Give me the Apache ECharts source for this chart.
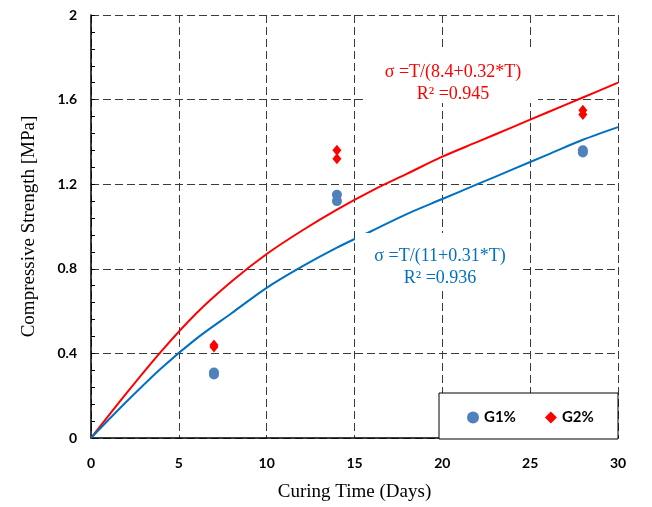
<!DOCTYPE html>
<html><head><meta charset="utf-8">
<script src="https://cdn.jsdelivr.net/npm/echarts@6/dist/echarts.min.js"></script>
<style>html,body{margin:0;padding:0;background:#fff}#c{width:652px;height:507px}</style>
</head><body><div id="c"></div>
<script>
// Data
const curveT = [0,2,4,6,8,10,12,14,16,18,20,22,24,26,28,30];
const fitG2 = [0,0.21,0.41,0.59,0.74,0.87,0.98,1.08,1.17,1.25,1.33,1.40,1.47,1.54,1.61,1.68];
const fitG1 = [0,0.17,0.33,0.47,0.59,0.71,0.81,0.90,0.98,1.06,1.13,1.20,1.27,1.34,1.41,1.47];
const testDays = [7,7,14,14,28,28];
const g1Vals = [0.30,0.31,1.12,1.15,1.35,1.36];
const g2Vals = [0.43,0.44,1.32,1.36,1.53,1.55];
const eqG2 = ['σ =T/(8.4+0.32*T)','R² =0.945'];
const eqG1 = ['σ =T/(11+0.31*T)','R² =0.936'];

const zip = (a,b)=>a.map((v,i)=>[v,b[i]]);
const chart = echarts.init(document.getElementById('c'));
const gridLine = {show:true,lineStyle:{color:'#3a3a3a',type:[8,4],width:1}};
const tickFont = {fontFamily:'Lato',fontWeight:'bold',fontSize:14,color:'#000'};
chart.setOption({
  animation:false,
  backgroundColor:'#fff',
  grid:{left:91,right:34,top:15,bottom:68},
  xAxis:{type:'value',min:0,max:30,interval:5,
    name:'Curing Time (Days)',nameLocation:'middle',nameGap:45,
    nameTextStyle:{fontFamily:'Liberation Serif',fontSize:19,color:'#000'},
    axisLine:{show:true,onZero:false,lineStyle:{color:'#000',width:1.5}},
    axisTick:{show:false},
    axisLabel:Object.assign({margin:18},tickFont),
    splitLine:gridLine},
  yAxis:{type:'value',min:0,max:2,interval:0.4,
    name:'Compressive Strength [MPa]',nameLocation:'middle',nameGap:52,
    nameTextStyle:{fontFamily:'Liberation Serif',fontSize:19,color:'#000'},
    axisLine:{show:true,onZero:false,lineStyle:{color:'#000',width:1.5}},
    axisTick:{show:true,inside:true,length:4,lineStyle:{color:'#000'}},
    minorTick:{show:true,splitNumber:5,length:4,lineStyle:{color:'#000'}},
    axisLabel:Object.assign({margin:14,formatter:v=>String(+v.toFixed(1))},tickFont),
    splitLine:gridLine},
  legend:{left:462,top:405,z:20,itemGap:29,itemWidth:12,itemHeight:12,
    textStyle:{fontFamily:'Lato',fontWeight:'bold',fontSize:15,color:'#000'},
    data:[{name:'G1%',icon:'circle'},{name:'G2%',icon:'diamond'}]},
  graphic:[
    {type:'rect',z:10,shape:{x:439,y:393,width:179,height:46},style:{fill:'#fff',stroke:'#000',lineWidth:1}},
    {type:'rect',z:10,shape:{x:367,y:50,width:171,height:53},style:{fill:'#fff'}},
    {type:'rect',z:10,shape:{x:355,y:233,width:165,height:55},style:{fill:'#fff'}},
    {type:'text',z:11,style:{text:eqG2.join('\n'),x:453,y:61,textAlign:'center',fill:'#ff0000',font:'18px "Liberation Serif"',lineHeight:22}},
    {type:'text',z:11,style:{text:eqG1.join('\n'),x:440,y:245,textAlign:'center',fill:'#0070c0',font:'18px "Liberation Serif"',lineHeight:22}}
  ],
  series:[
    {name:'fitG2',type:'line',data:zip(curveT,fitG2),smooth:0.3,showSymbol:false,lineStyle:{color:'#ff0000',width:2},itemStyle:{color:'#ff0000'}},
    {name:'fitG1',type:'line',data:zip(curveT,fitG1),smooth:0.3,showSymbol:false,lineStyle:{color:'#0070c0',width:2},itemStyle:{color:'#0070c0'}},
    {name:'G1%',type:'scatter',data:zip(testDays,g1Vals),symbol:'circle',symbolSize:10,itemStyle:{color:'#4f81bd',opacity:1}},
    {name:'G2%',type:'scatter',data:zip(testDays,g2Vals),symbol:'diamond',symbolSize:[9,11],itemStyle:{color:'#ff0000',opacity:1}}
  ]
});
</script></body></html>
